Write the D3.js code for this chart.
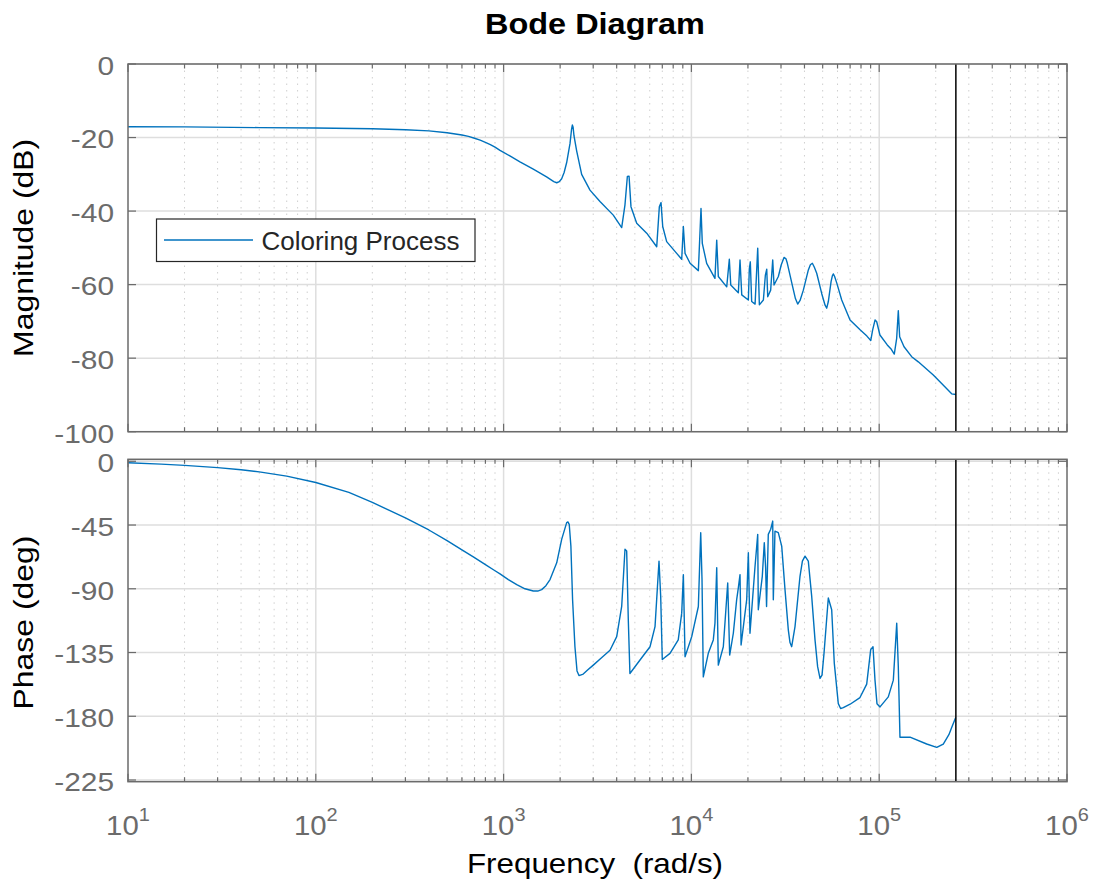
<!DOCTYPE html>
<html>
<head>
<meta charset="utf-8">
<script src="https://cdn.jsdelivr.net/npm/d3@7"></script>
<style>
  body { margin: 0; background: #fff; }
  svg { display: block; }
  text { font-family: "Liberation Sans", Arial, Helvetica, sans-serif; white-space: pre; }
</style>
</head>
<body>
<svg id="chart" width="1097" height="888"></svg>
<script>
// ---- data -------------------------------------------------------------
const magFreq = [10, 20, 50, 100, 200, 300, 400, 500, 600, 650, 700, 750, 800, 850, 900, 957,
  1080, 1222, 1439, 1694, 1850, 1918, 1980, 2038, 2100, 2167, 2258, 2300, 2323, 2345, 2370, 2449, 2604, 2884, 3260,
  3837, 4254, 4429, 4560, 4656, 4767, 5114, 5781, 6536, 6750, 6891, 7035, 7385,
  8351, 8880, 9060, 9250, 9837, 10890, 11250, 11430, 12060, 13350, 13640, 13910,
  15420, 15920, 16200, 17780, 18150, 18540, 20100, 20340, 20590, 20940, 21830,
  22550, 23010, 24170, 24770, 25190, 25490, 26430, 27100, 27540, 29040, 30100, 31120,
  31900, 32420, 34620, 35800, 36810, 37900, 39450, 41950, 43000, 44060, 45100, 46480, 49400,
  51500, 52550, 53600, 55430, 56300, 57030, 57900, 59460, 63150, 69930, 79100, 86000, 90150,
  92300, 95060, 97000, 100900, 110400, 116000, 120300, 123900, 126400, 128500, 135600, 148900,
  161500, 194100, 243200, 256000];
const magDb = [-17.05, -17.1, -17.3, -17.4, -17.6, -17.9, -18.2, -18.7, -19.3, -19.7, -20.2, -20.7, -21.3, -21.9, -22.6, -23.5,
  -25.0, -26.6, -28.6, -30.7, -32.0, -32.3, -32.0, -31.2, -29.5, -26.8, -21.6, -17.8, -16.6, -17.2, -19.5, -23.6, -30.0, -34.3, -37.4,
  -41.1, -44.5, -38.3, -30.6, -30.5, -38.8, -43.3, -46.0, -49.7, -38.8, -37.7, -44.2, -48.3,
  -51.5, -53.1, -44.2, -51.5, -54.2, -56.2, -39.3, -48.8, -54.2, -58.3, -47.9, -57.8,
  -60.6, -53.1, -60.1, -62.2, -53.3, -62.8, -64.2, -55.8, -53.8, -64.6, -65.3,
  -50.1, -65.5, -64.2, -57.4, -55.8, -63.3, -61.5, -53.3, -60.1, -57.8, -54.6, -52.6,
  -53.0, -54.2, -60.6, -63.8, -65.3, -64.3, -61.5, -56.0, -54.6, -54.2, -55.2, -56.9, -62.4,
  -65.6, -66.4, -64.6, -59.2, -57.6, -57.1, -57.8, -59.6, -64.2, -69.6, -72.3, -74.0, -75.2,
  -72.3, -69.6, -70.1, -73.7, -76.4, -77.6, -78.9, -74.6, -67.1, -74.2, -76.9, -79.6,
  -81.0, -84.6, -89.7, -89.9];

const phaseFreq = [10, 15, 20, 30, 40, 50, 70, 100, 150, 200, 300, 400, 500, 600, 700, 800, 900, 957,
  1060, 1175, 1300, 1439, 1520, 1595, 1680, 1767, 1918, 2038, 2167, 2200, 2236, 2282, 2330, 2398, 2460, 2520, 2655, 2800, 3003, 3300,
  3686, 4002, 4254, 4430, 4522, 4613, 4706, 5325, 6021, 6402, 6722, 6863, 6998, 7691,
  8511, 8880, 9061, 9250, 10040, 10890, 11210, 11390, 11570, 12300, 13080, 13350,
  13640, 13910, 14790, 15610, 15990, 16720, 17420, 17780, 18150, 18390, 19700,
  20100, 20510, 21820, 22550, 22710, 23850, 24440, 24850, 25130, 25670, 26440,
  27100, 27300, 27860, 29020, 30260, 31510, 32810, 33500, 34200, 35620, 37870, 39000, 40270,
  41930, 43710, 45520, 47000, 48400, 49600, 50830, 53580, 55850, 57670, 60560, 62300, 64400, 70000, 79000,
  85800, 90100, 92700, 94980, 97300, 101000, 111800, 118900, 123970, 126400,
  129000, 145900, 179000, 202400, 219400, 235000, 243200, 255500];
const phaseDeg = [-1.0, -2.0, -2.9, -4.5, -6.0, -7.5, -10.5, -15.0, -22.0, -29.0, -40.0, -48.5, -56.0, -62.5, -68.0, -73.0, -77.3, -79.5,
  -83.5, -87.1, -90.0, -91.6, -91.6, -90.6, -87.8, -83.5, -71.7, -55.1, -43.3, -42.8, -44.5, -59.9, -97.7, -130.9, -148.0, -151.3, -150.2, -147.4, -143.9, -139.0,
  -133.4, -123.8, -102.5, -62.1, -63.3, -111.9, -149.8, -140.3, -130.9, -116.7, -70.5, -95.4, -139.9, -135.6,
  -126.1, -107.2, -80.0, -138.0, -123.8, -102.5, -50.4, -83.5, -152.2, -135.6, -126.1, -114.3,
  -75.2, -143.9, -130.9, -85.9, -136.8, -121.4, -97.7, -89.4, -80.0, -129.7, -97.7,
  -64.6, -121.4, -74.1, -51.6, -104.8, -81.2, -57.5, -75.2, -102.5, -51.6, -48.0,
  -42.2, -97.7, -49.3, -50.4, -59.9, -90.6, -119.0, -128.0, -130.9, -116.7, -81.2, -70.5, -67.0,
  -70.5, -95.4, -126.1, -145.0, -153.3, -151.0, -135.6, -96.5, -104.8, -142.7, -171.1, -174.5, -173.9, -171.5, -166.8,
  -157.3, -133.0, -130.9, -154.5, -171.1, -173.4, -166.3, -154.5, -114.3, -145.1,
  -194.8, -194.8, -199.6, -202.0, -199.6, -193.0, -188.0, -180.9];

const magTicks = [0, -20, -40, -60, -80, -100];
const phaseTicks = [0, -45, -90, -135, -180, -225];
const decades = [1, 2, 3, 4, 5, 6];
const nyquistFreq = 2.56e5;
const seriesName = "Coloring Process";

// ---- layout -----------------------------------------------------------
const svg = d3.select("#chart");
const left = 128, right = 1067;
const magBox = { top: 64, bottom: 431.7 };
const phBox = { top: 459.3, bottom: 781.7 };

const axisColor = "#6b6b6b";
const gridColor = "#dedede";
const minorGridColor = "#cfcfcf";
const lineColor = "#0072BD";

const x = d3.scaleLog().domain([10, 1e6]).range([left, right]);
const yMag = d3.scaleLinear().domain([-100, 0]).range([magBox.bottom, magBox.top]);
const yPh = d3.scaleLinear().domain([-226.2, 1.4]).range([phBox.bottom, phBox.top]);

const minorFreqs = [];
decades.slice(0, -1).forEach(e => {
  for (let m = 2; m <= 9; m++) minorFreqs.push(m * Math.pow(10, e));
});
const majorFreqs = decades.map(e => Math.pow(10, e));

function drawPanel(box, y, ticks, freqs, values, cls) {
  const g = svg.append("g").attr("class", cls);
  g.append("rect").attr("x", left).attr("y", box.top)
    .attr("width", right - left).attr("height", box.bottom - box.top)
    .attr("fill", "#fff");

  // minor vertical grid (dotted)
  g.selectAll(".minor-grid").data(minorFreqs).enter().append("line")
    .attr("x1", d => x(d)).attr("x2", d => x(d))
    .attr("y1", box.top).attr("y2", box.bottom)
    .attr("stroke", minorGridColor).attr("stroke-width", 1)
    .attr("stroke-dasharray", "1.5,5");

  // major vertical grid
  g.selectAll(".major-grid").data(majorFreqs.slice(1, -1)).enter().append("line")
    .attr("x1", d => x(d)).attr("x2", d => x(d))
    .attr("y1", box.top).attr("y2", box.bottom)
    .attr("stroke", gridColor).attr("stroke-width", 1.5);

  // horizontal grid
  g.selectAll(".hgrid").data(ticks).enter().append("line")
    .attr("x1", left).attr("x2", right)
    .attr("y1", d => y(d)).attr("y2", d => y(d))
    .attr("stroke", gridColor).attr("stroke-width", 1.5);

  // response curve
  const pts = freqs.map((f, i) => [f, values[i]]);
  const line = d3.line().x(d => x(d[0])).y(d => y(d[1]));
  g.append("path").datum(pts)
    .attr("d", line)
    .attr("fill", "none")
    .attr("stroke", lineColor)
    .attr("stroke-width", 1.4)
    .attr("stroke-linejoin", "round");

  // Nyquist frequency marker
  g.append("line")
    .attr("x1", x(nyquistFreq)).attr("x2", x(nyquistFreq))
    .attr("y1", box.top).attr("y2", box.bottom)
    .attr("stroke", "#000").attr("stroke-width", 1.5);

  // ticks (inward, all four sides)
  const tk = g.append("g").attr("stroke", axisColor).attr("stroke-width", 1.2);
  [box.top, box.bottom].forEach((yy, k) => {
    const dir = k === 0 ? 1 : -1;
    majorFreqs.forEach(f => tk.append("line")
      .attr("x1", x(f)).attr("x2", x(f)).attr("y1", yy).attr("y2", yy + dir * 8));
    minorFreqs.forEach(f => tk.append("line")
      .attr("x1", x(f)).attr("x2", x(f)).attr("y1", yy).attr("y2", yy + dir * 4.5));
  });
  ticks.forEach(t => {
    tk.append("line").attr("x1", left).attr("x2", left + 8).attr("y1", y(t)).attr("y2", y(t));
    tk.append("line").attr("x1", right).attr("x2", right - 8).attr("y1", y(t)).attr("y2", y(t));
  });

  // axes box
  g.append("rect").attr("x", left).attr("y", box.top)
    .attr("width", right - left).attr("height", box.bottom - box.top)
    .attr("fill", "none").attr("stroke", axisColor).attr("stroke-width", 1.5);

  // y tick labels
  g.selectAll(".ylab").data(ticks).enter().append("text")
    .attr("transform", d => `translate(114,${y(d) + 2}) scale(1.15,1)`)
    .attr("text-anchor", "end")
    .attr("dominant-baseline", "central")
    .attr("font-size", 26)
    .attr("fill", axisColor)
    .text(d => d);
  return g;
}

drawPanel(magBox, yMag, magTicks, magFreq, magDb, "magnitude");
drawPanel(phBox, yPh, phaseTicks, phaseFreq, phaseDeg, "phase");

// x tick labels (powers of ten)
const xl = svg.append("g");
decades.forEach(e => {
  const t = xl.append("text")
    .attr("transform", `translate(${x(Math.pow(10, e))},835) scale(1.05,1)`)
    .attr("text-anchor", "middle")
    .attr("fill", axisColor)
    .attr("font-size", 28);
  t.append("tspan").text("10");
  t.append("tspan").attr("dy", -14).attr("font-size", 19).text(e);
});

// title and axis labels
svg.append("text")
  .attr("transform", "translate(595,34) scale(1.1,1)")
  .attr("text-anchor", "middle").attr("font-size", 29.5).attr("font-weight", "bold")
  .attr("fill", "#000").text("Bode Diagram");

svg.append("text")
  .attr("transform", "translate(595,873) scale(1.12,1)")
  .attr("text-anchor", "middle").attr("font-size", 28).attr("fill", "#000")
  .text("Frequency  (rad/s)");

svg.append("text")
  .attr("transform", `translate(33,${(magBox.top + magBox.bottom) / 2}) rotate(-90) scale(1.14,1)`)
  .attr("text-anchor", "middle").attr("font-size", 28).attr("fill", "#000")
  .text("Magnitude (dB)");

svg.append("text")
  .attr("transform", `translate(33,${(phBox.top + phBox.bottom) / 2 + 2}) rotate(-90) scale(1.14,1)`)
  .attr("text-anchor", "middle").attr("font-size", 28).attr("fill", "#000")
  .text("Phase (deg)");

// legend
const lg = svg.append("g");
lg.append("rect").attr("x", 156.5).attr("y", 219).attr("width", 318.5).attr("height", 42.5)
  .attr("fill", "#fff").attr("stroke", "#262626").attr("stroke-width", 1.2);
lg.append("line").attr("x1", 164).attr("x2", 253).attr("y1", 240).attr("y2", 240)
  .attr("stroke", lineColor).attr("stroke-width", 1.4);
lg.append("text")
  .attr("transform", "translate(261.5,249.5) scale(1.04,1)")
  .attr("font-size", 25).attr("fill", "#262626")
  .text(seriesName);
</script>
</body>
</html>
